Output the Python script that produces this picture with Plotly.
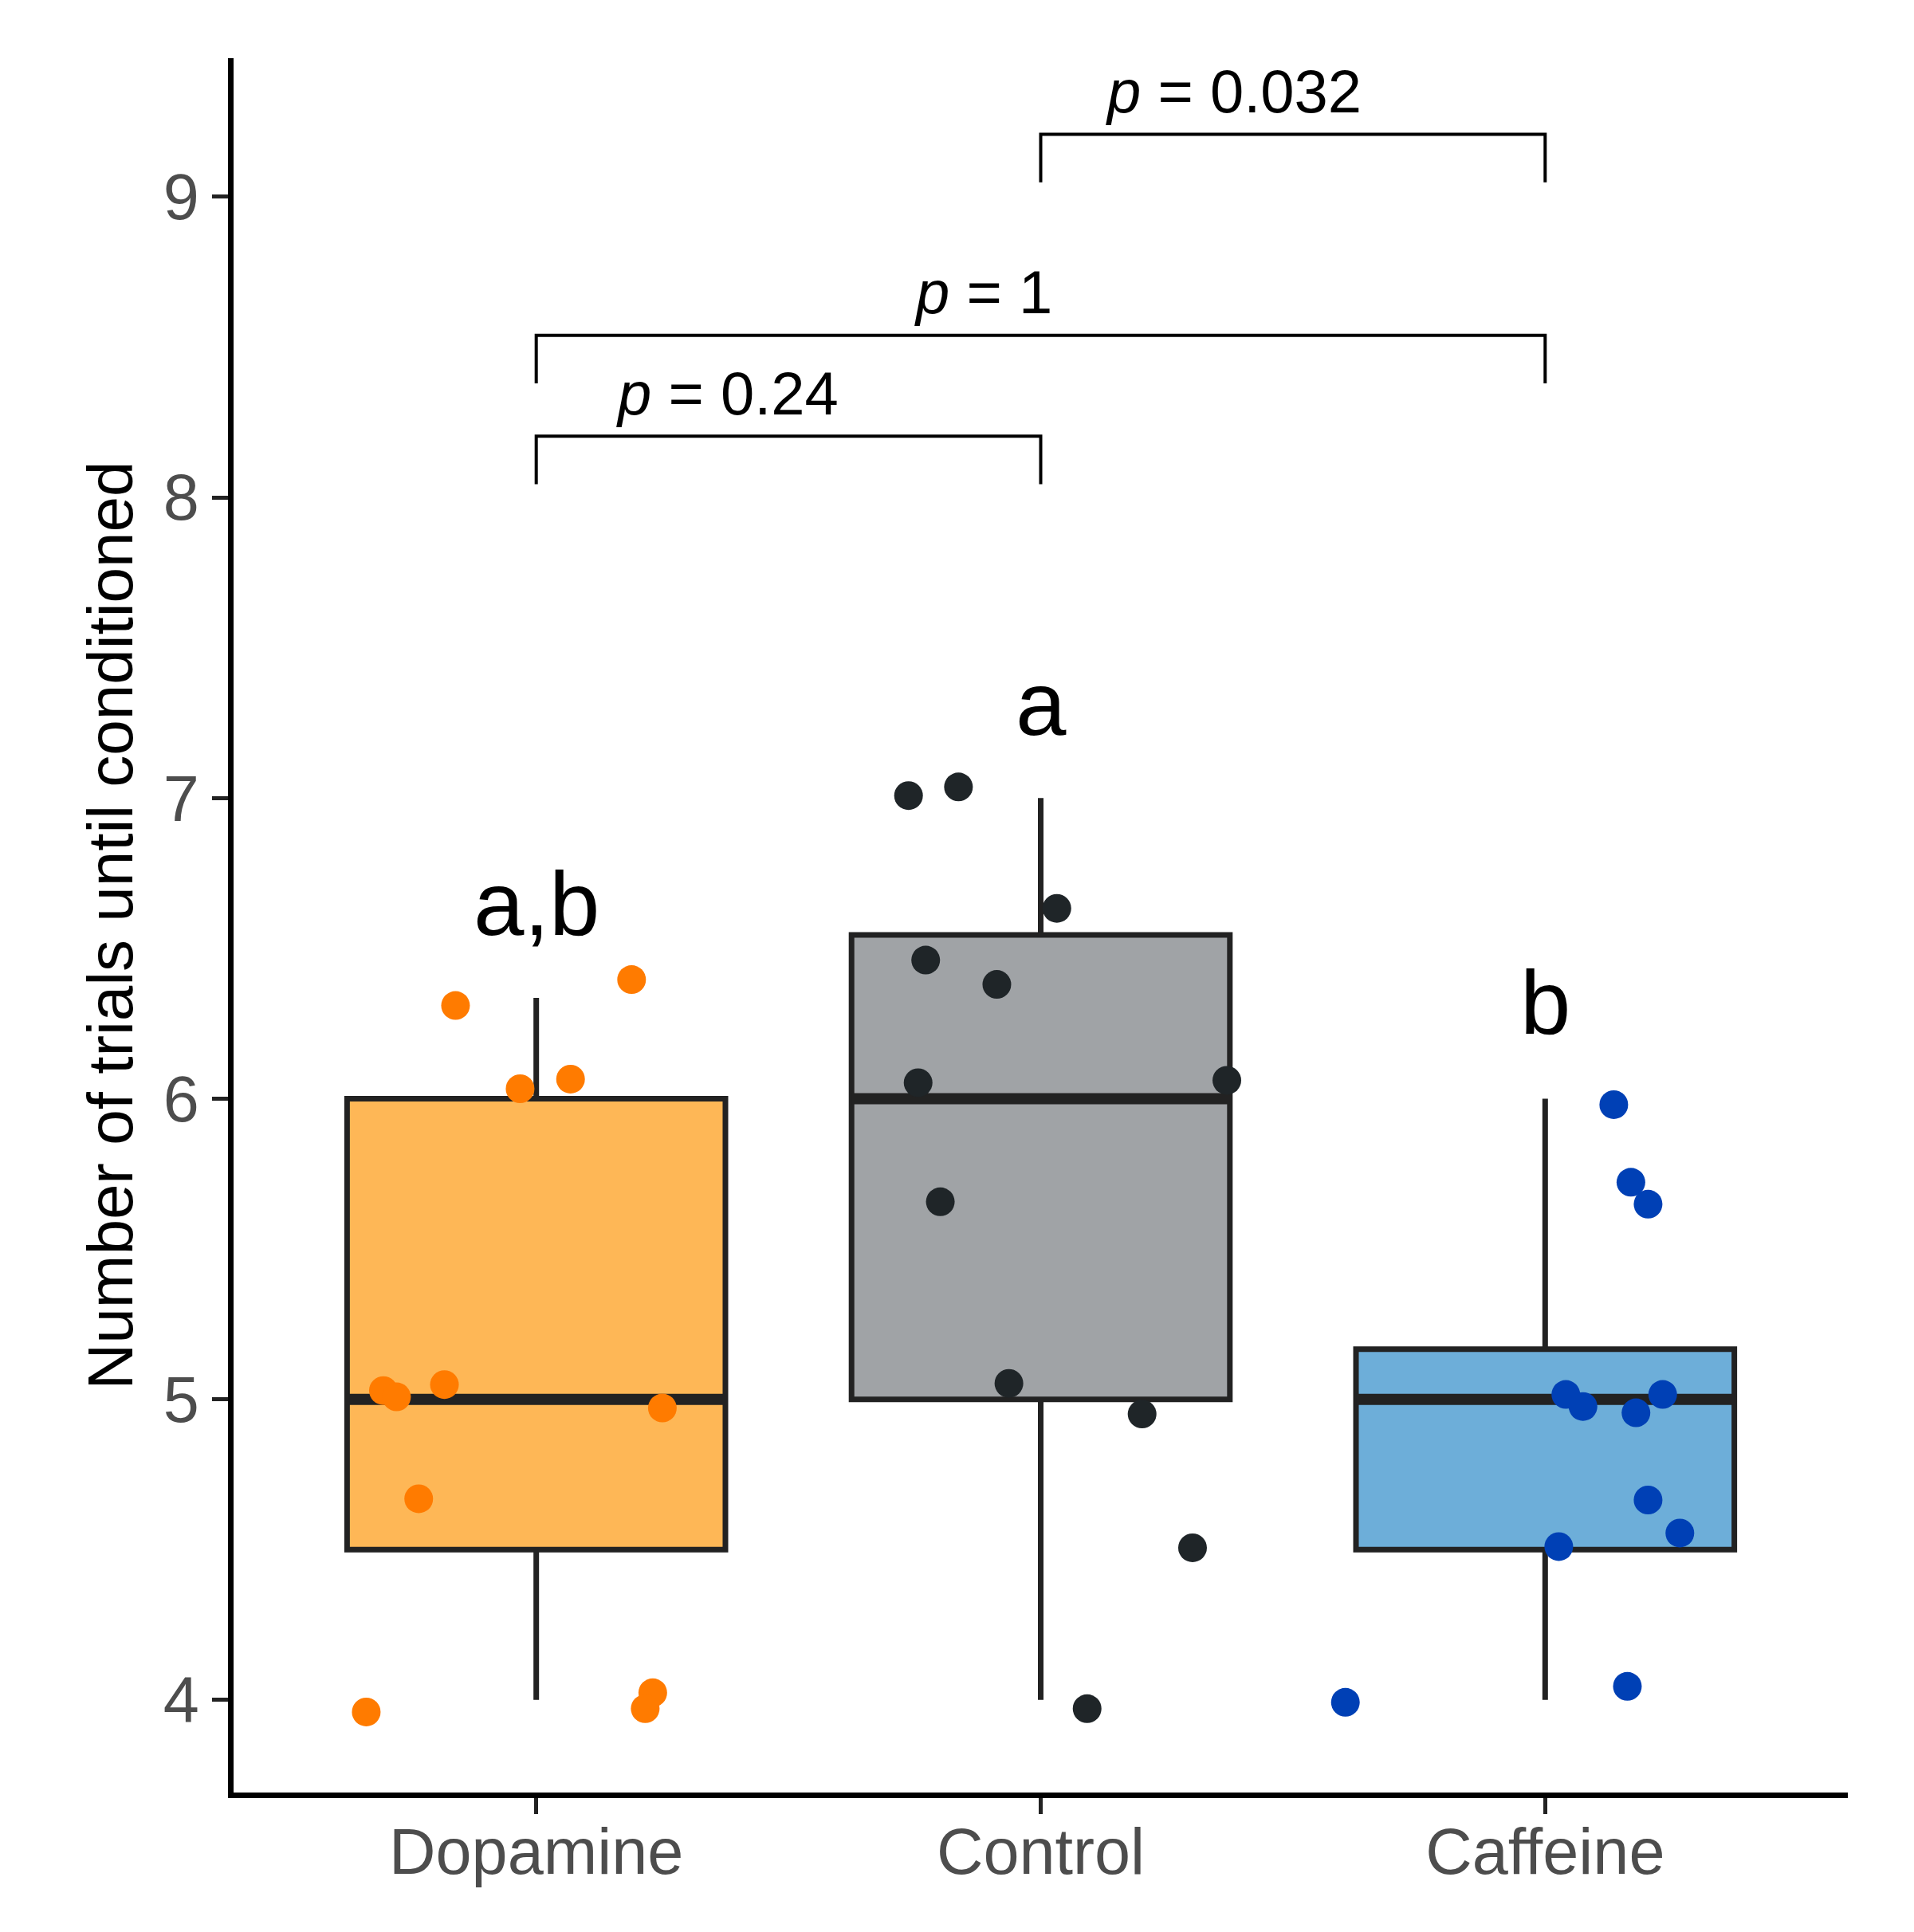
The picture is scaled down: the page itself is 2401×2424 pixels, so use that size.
import plotly.graph_objects as go

groups = ["Dopamine", "Control", "Caffeine"]
box_fill = ["#feb756", "#a0a3a6", "#6daed9"]
point_color = ["#ff7b00", "#1f2528", "#0040b5"]

q1 = [4.5, 5.0, 4.5]
median = [5.0, 6.0, 5.0]
q3 = [6.0, 6.545, 5.167]
lower_whisker = [4.0, 4.0, 4.0]
upper_whisker = [6.335, 7.0, 6.0]

# jittered points: horizontal offset from group centre, value
dopamine_dx = [-0.337, -0.16, 0.189, -0.032, 0.068, -0.303, -0.277, -0.182, 0.25, -0.233, 0.231, 0.216]
dopamine_y = [3.96, 6.31, 6.396, 6.033, 6.065, 5.029, 5.008, 5.049, 4.971, 4.669, 4.024, 3.971]
control_dx = [-0.262, -0.163, 0.032, -0.228, -0.087, -0.243, 0.369, -0.199, -0.063, 0.201, 0.301, 0.092]
control_y = [7.008, 7.037, 6.633, 6.461, 6.38, 6.053, 6.061, 5.657, 5.053, 4.951, 4.506, 3.971]
caffeine_dx = [-0.396, 0.136, 0.17, 0.204, 0.041, 0.075, 0.18, 0.233, 0.204, 0.267, 0.027, 0.163]
caffeine_y = [3.992, 5.98, 5.722, 5.649, 5.016, 4.976, 4.955, 5.016, 4.665, 4.555, 4.51, 4.045]

letters = ["a,b", "a", "b"]
letter_y = [6.65, 7.315, 6.32]

# significance brackets: from group, to group, height, label, label x, label y
bracket_from = [0, 0, 1]
bracket_to = [1, 2, 2]
bracket_y = [8.204, 8.539, 9.208]
bracket_tip = 0.16
p_labels = ["0.24", "1", "0.032"]
p_label_x = [0.379, 0.886, 1.383]
p_label_y = [8.345, 8.683, 9.35]

box_width = 0.75
font = "Liberation Sans, Arial, sans-serif"

fig = go.Figure()

for i, g in enumerate(groups):
    fig.add_trace(
        go.Box(
            x=[i],
            q1=[q1[i]],
            median=[median[i]],
            q3=[q3[i]],
            lowerfence=[lower_whisker[i]],
            upperfence=[upper_whisker[i]],
            width=box_width,
            whiskerwidth=0,
            fillcolor=box_fill[i],
            line=dict(color="#222222", width=7),
            boxpoints=False,
            name=g,
            hoverinfo="skip",
        )
    )
    # thick median bar
    fig.add_trace(
        go.Scatter(
            x=[i - box_width / 2, i + box_width / 2],
            y=[median[i], median[i]],
            mode="lines",
            line=dict(color="#222222", width=14),
            hoverinfo="skip",
        )
    )

point_sets = [(dopamine_dx, dopamine_y), (control_dx, control_y), (caffeine_dx, caffeine_y)]
for i, (dx, ys) in enumerate(point_sets):
    fig.add_trace(
        go.Scatter(
            x=[i + d for d in dx],
            y=ys,
            mode="markers",
            marker=dict(color=point_color[i], size=36, line=dict(width=0)),
            hoverinfo="skip",
        )
    )

for a, b, h in zip(bracket_from, bracket_to, bracket_y):
    fig.add_trace(
        go.Scatter(
            x=[a, a, b, b],
            y=[h - bracket_tip, h, h, h - bracket_tip],
            mode="lines",
            line=dict(color="black", width=4),
            hoverinfo="skip",
        )
    )

annotations = []
for i, t in enumerate(letters):
    annotations.append(
        dict(
            x=i, y=letter_y[i], text=t, showarrow=False,
            xanchor="center", yanchor="middle",
            font=dict(family=font, size=114, color="black"),
        )
    )
for lbl, lx, ly in zip(p_labels, p_label_x, p_label_y):
    annotations.append(
        dict(
            x=lx, y=ly, text=f"<i>p</i> = {lbl}", showarrow=False,
            xanchor="center", yanchor="middle",
            font=dict(family=font, size=76, color="black"),
        )
    )

fig.update_layout(
    width=2401,
    height=2424,
    margin=dict(l=285, r=91, t=65, b=183),
    plot_bgcolor="white",
    paper_bgcolor="white",
    showlegend=False,
    annotations=annotations,
    xaxis=dict(
        range=[-0.6, 2.6],
        tickvals=[0, 1, 2],
        ticktext=groups,
        showline=True,
        linecolor="black",
        linewidth=7,
        ticks="outside",
        ticklen=20,
        tickwidth=5,
        tickcolor="#222222",
        ticklabelstandoff=-22,
        showgrid=False,
        zeroline=False,
        tickfont=dict(family=font, size=81, color="#4d4d4d"),
    ),
    yaxis=dict(
        range=[3.692, 9.461],
        tickvals=[4, 5, 6, 7, 8, 9],
        showline=True,
        linecolor="black",
        linewidth=7,
        ticks="outside",
        ticklen=20,
        tickwidth=5,
        tickcolor="#222222",
        showgrid=False,
        zeroline=False,
        tickfont=dict(family=font, size=81, color="#4d4d4d"),
        title=dict(
            text="Number of trials until conditioned",
            font=dict(family=font, size=80, color="black"),
            standoff=14,
        ),
    ),
)

fig.write_html("out.html")
